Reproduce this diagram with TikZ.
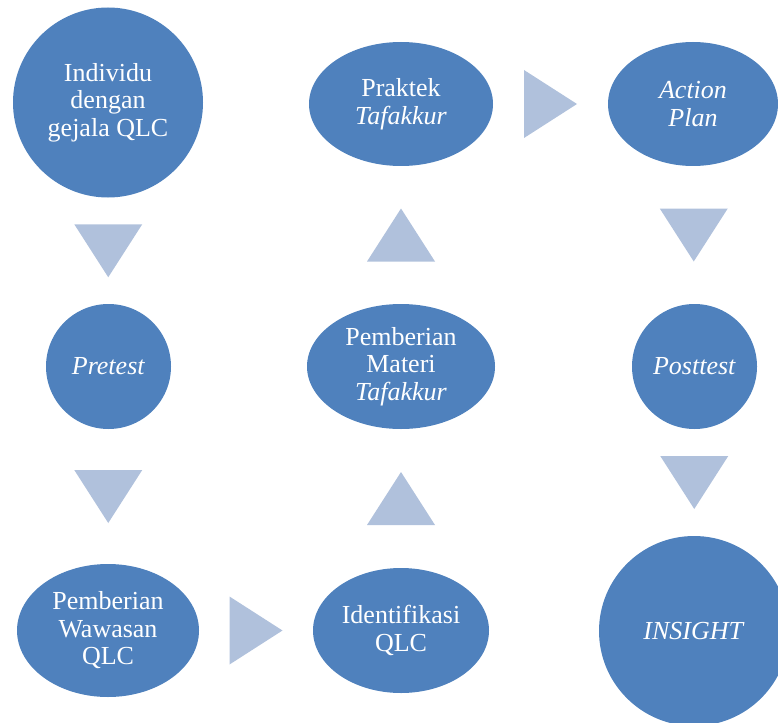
\documentclass[tikz,border=0pt]{standalone}
\usepackage{fontspec}
\setmainfont{Liberation Serif}
\usetikzlibrary{shapes.geometric,calc}
\definecolor{nodeblue}{RGB}{79,129,189}
\definecolor{arrowblue}{RGB}{176,193,220}
\tikzset{
  base/.style={fill=nodeblue, draw=none, text=white, inner sep=0pt, align=center,
    font=\fontsize{26}{27.5}\selectfont},
  circ/.style={base, circle},
  ell/.style={base, ellipse},
  pics/tridown/.style={code={\fill[arrowblue] (-34,-26.5) -- (34,-26.5) -- (0,26.5) -- cycle;}},
  pics/triup/.style={code={\fill[arrowblue] (-34,26.5) -- (34,26.5) -- (0,-26.5) -- cycle;}},
  pics/triright/.style={code={\fill[arrowblue] (-26.5,-34) -- (-26.5,34) -- (26.5,0) -- cycle;}},
}
\begin{document}
\begin{tikzpicture}[x=1pt,y=-1pt]
\useasboundingbox (0,0) rectangle (778,722);
\clip (0,0) rectangle (778,722);
\node[circ, minimum size=190pt] (a) at (108,102.5) {Individu\\dengan\\gejala QLC};
\node[circ, minimum size=125pt] (b) at (108.5,366.5) {\textit{Pretest}};
\node[ell, minimum width=182pt, minimum height=133pt] (c) at (108,630.5) {Pemberian\\Wawasan\\QLC};
\node[ell, minimum width=176pt, minimum height=125pt] (d) at (401,630.5) {Identifikasi\\QLC};
\node[ell, minimum width=188pt, minimum height=125pt] (e) at (401,366.5) {Pemberian\\Materi\\\textit{Tafakkur}};
\node[ell, minimum width=184pt, minimum height=124pt] (f) at (401,104) {Praktek\\\textit{Tafakkur}};
\node[ell, minimum width=170pt, minimum height=124pt] (g) at (693,104) {\textit{Action}\\\textit{Plan}};
\node[circ, minimum size=125pt] (h) at (694.5,366.5) {\textit{Posttest}};
\node[circ, minimum size=190pt] (i) at (694,631) {\textit{INSIGHT}};
\pic at ($(a.south)!0.5!(b.north)$) {tridown};
\pic at ($(b.south)!0.5!(c.north)$) {tridown};
\pic at ($(c.east)!0.5!(d.west)$) {triright};
\pic at ($(d.north)!0.5!(e.south)$) {triup};
\pic at ($(e.north)!0.5!(f.south)$) {triup};
\pic at ($(f.east)!0.5!(g.west)$) {triright};
\pic at ($(g.south)!0.5!(h.north)$) {tridown};
\pic at ($(h.south)!0.5!(i.north)$) {tridown};
\end{tikzpicture}
\end{document}
